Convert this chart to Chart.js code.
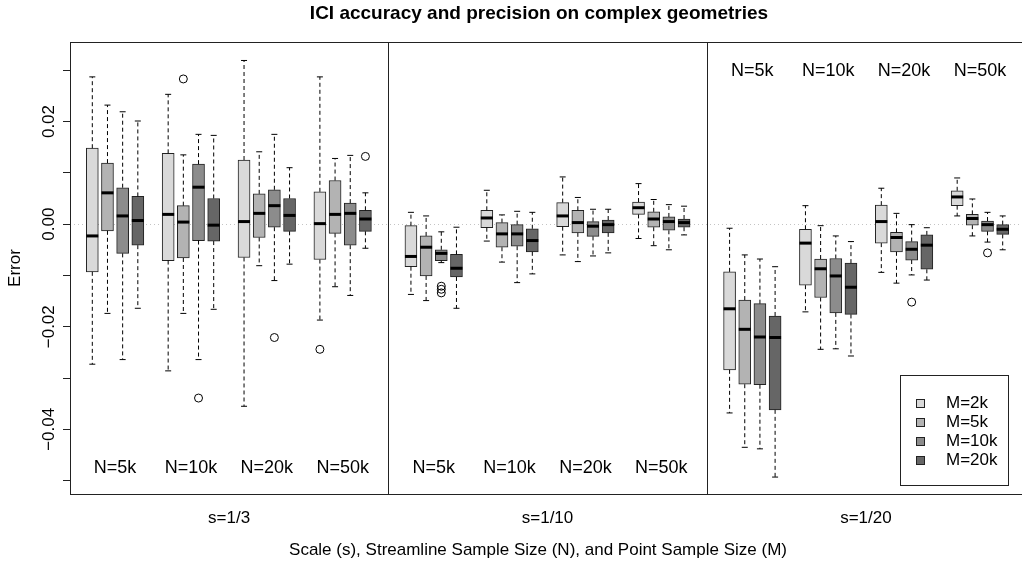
<!DOCTYPE html>
<html>
<head>
<meta charset="utf-8">
<title>ICI accuracy and precision on complex geometries</title>
<script src="https://cdn.jsdelivr.net/npm/chart.js@4.4.1/dist/chart.umd.min.js"></script>
<style>
  html, body { margin: 0; padding: 0; background: #fff; overflow: hidden; }
  canvas { display: block; }
</style>
</head>
<body>
<canvas id="boxChart" width="1030" height="568"></canvas>
<script>
// --- Data -------------------------------------------------------
const scaleLabels = ['s=1/3', 's=1/10', 's=1/20'];
const nLabels = ['N=5k', 'N=10k', 'N=20k', 'N=50k'];
const mLabels = ['M=2k', 'M=5k', 'M=10k', 'M=20k'];

// one row per M level; 12 groups = s=1/3 (N=5k..50k), s=1/10 (..), s=1/20 (..)
const whiskerLow = [
  [-0.0273, -0.0286, -0.0355, -0.0187,  -0.0137, -0.0033, -0.0060, -0.0028,  -0.0368, -0.0171, -0.0094,  0.0016],
  [-0.0174, -0.0174, -0.0081, -0.0122,  -0.0149, -0.0074, -0.0073, -0.0042,  -0.0435, -0.0244, -0.0115, -0.0023],
  [-0.0264, -0.0264, -0.0110, -0.0139,  -0.0075, -0.0114, -0.0062, -0.0050,  -0.0438, -0.0243, -0.0099, -0.0035],
  [-0.0164, -0.0166, -0.0078, -0.0047,  -0.0164, -0.0097, -0.0056, -0.0021,  -0.0493, -0.0257, -0.0109, -0.0050]
];
const lowerQuartile = [
  [-0.0093, -0.0071, -0.0065, -0.0069,  -0.0083, -0.0007, -0.0005,  0.0019,  -0.0284, -0.0119, -0.0037,  0.0036],
  [-0.0013, -0.0066, -0.0026, -0.0018,  -0.0101, -0.0045, -0.0017, -0.0006,  -0.0312, -0.0143, -0.0054, -0.0002],
  [-0.0057, -0.0032, -0.0006, -0.0041,  -0.0071, -0.0043, -0.0024, -0.0012,  -0.0313, -0.0173, -0.0070, -0.0014],
  [-0.0041, -0.0033, -0.0014, -0.0014,  -0.0103, -0.0054, -0.0017, -0.0006,  -0.0362, -0.0176, -0.0088, -0.0020]
];
const medians = [
  [-0.0023,  0.0019,  0.0005,  0.0001,  -0.0063,  0.0012,  0.0016,  0.0032,  -0.0165, -0.0037,  0.0005,  0.0053],
  [ 0.0061,  0.0004,  0.0021,  0.0019,  -0.0045, -0.0019,  0.0003,  0.0010,  -0.0205, -0.0087, -0.0026,  0.0011],
  [ 0.0016,  0.0072,  0.0036,  0.0021,  -0.0057, -0.0019, -0.0004,  0.0005,  -0.0220, -0.0101, -0.0049, -0.0001],
  [ 0.0007, -0.0002,  0.0017,  0.0010,  -0.0086, -0.0032, -0.0001,  0.0003,  -0.0221, -0.0123, -0.0041, -0.0010]
];
const upperQuartile = [
  [ 0.0148,  0.0138,  0.0125,  0.0063,  -0.0003,  0.0027,  0.0042,  0.0043,  -0.0093, -0.0010,  0.0037,  0.0065],
  [ 0.0119,  0.0036,  0.0059,  0.0085,  -0.0023,  0.0003,  0.0027,  0.0024,  -0.0148, -0.0068, -0.0016,  0.0019],
  [ 0.0071,  0.0117,  0.0067,  0.0041,  -0.0050, -0.0001,  0.0005,  0.0014,  -0.0155, -0.0067, -0.0034,  0.0006],
  [ 0.0054,  0.0050,  0.0050,  0.0027,  -0.0059, -0.0009,  0.0008,  0.0010,  -0.0179, -0.0076, -0.0021, -0.0001]
];
const whiskerHigh = [
  [ 0.0287,  0.0253,  0.0319,  0.0287,   0.0023,  0.0066,  0.0092,  0.0079,  -0.0008,  0.0036,  0.0070,  0.0090],
  [ 0.0232,  0.0135,  0.0141,  0.0128,   0.0016,  0.0018,  0.0052,  0.0048,  -0.0060, -0.0003,  0.0021,  0.0049],
  [ 0.0219,  0.0175,  0.0175,  0.0134,  -0.0015,  0.0025,  0.0029,  0.0038,  -0.0068, -0.0023, -0.0001,  0.0023],
  [ 0.0201,  0.0173,  0.0110,  0.0061,  -0.0006,  0.0023,  0.0029,  0.0035,  -0.0083, -0.0034, -0.0007,  0.0016]
];

// points beyond the whiskers: group, M level, value
const outlierGroup = [1, 1, 2, 3, 3, 4, 4, 4, 10, 11];
const outlierM     = [1, 2, 2, 0, 3, 2, 2, 2, 2, 2];
const outlierValue = [0.0283, -0.0339, -0.0221, -0.0244, 0.0132, -0.0121, -0.0127, -0.0134, -0.0152, -0.0056];

const yTicks = [-0.05, -0.04, -0.03, -0.02, -0.01, 0, 0.01, 0.02, 0.03];
const yLabelValues = [0.02, 0, -0.02, -0.04];
const yLabelText = ['0.02', '0.00', '\u22120.02', '\u22120.04'];

// --- Styling ----------------------------------------------------
const fills = ['#d9d9d9', '#b3b3b3', '#8c8c8c', '#666666'];
const FONT = '"Liberation Sans", Arial, Helvetica, sans-serif';
const INK = '#222';

// slot on the x axis: 21 slots per panel, 5 per N group (4 boxes + gap)
const slotOf = (g, m) => Math.floor(g / 4) * 21 + (g % 4) * 5 + m;
const groups = [...Array(12).keys()];

const datasets = mLabels.map((label, m) => ({
  type: 'bar',
  label,
  data: groups.map(g => ({ x: slotOf(g, m), y: [lowerQuartile[m][g], upperQuartile[m][g]] })),
  backgroundColor: fills[m],
  borderColor: INK,
  borderWidth: 1,
  borderSkipped: false,
  barThickness: 12,
  maxBarThickness: 12,
  grouped: false
}));

datasets.push({
  type: 'scatter',
  label: 'outliers',
  data: outlierValue.map((v, i) => ({ x: slotOf(outlierGroup[i], outlierM[i]), y: v })),
  pointStyle: 'circle',
  pointRadius: 4,
  pointBorderWidth: 1,
  borderColor: '#000',
  backgroundColor: 'rgba(0,0,0,0)'
});

// --- Whiskers, medians, frame and labels -------------------------
const boxParts = {
  id: 'boxParts',
  beforeDatasetsDraw(chart) {
    const { ctx, chartArea: a, scales: { y } } = chart;
    ctx.save();
    ctx.strokeStyle = '#c4c4c4';
    ctx.lineWidth = 1;
    ctx.setLineDash([1, 3]);
    const y0 = Math.round(y.getPixelForValue(0)) + 0.5;
    ctx.beginPath();
    ctx.moveTo(a.left, y0);
    ctx.lineTo(a.right, y0);
    ctx.stroke();
    ctx.restore();
  },
  afterDatasetsDraw(chart) {
    const { ctx, scales: { x, y } } = chart;
    ctx.save();
    ctx.strokeStyle = '#000';
    mLabels.forEach((_, m) => {
      groups.forEach(g => {
        const px = x.getPixelForValue(slotOf(g, m));
        const ends = [
          [upperQuartile[m][g], whiskerHigh[m][g]],
          [lowerQuartile[m][g], whiskerLow[m][g]]
        ];
        ends.forEach(([from, to]) => {
          const y1 = y.getPixelForValue(from);
          const y2 = y.getPixelForValue(to);
          ctx.lineWidth = 1;
          ctx.setLineDash([4, 3]);
          ctx.beginPath();
          ctx.moveTo(px, y1);
          ctx.lineTo(px, y2);
          ctx.stroke();
          ctx.setLineDash([]);
          ctx.beginPath();
          ctx.moveTo(px - 3, y2);
          ctx.lineTo(px + 3, y2);
          ctx.stroke();
        });
        const ym = y.getPixelForValue(medians[m][g]);
        ctx.lineWidth = 3;
        ctx.beginPath();
        ctx.moveTo(px - 6, ym);
        ctx.lineTo(px + 6, ym);
        ctx.stroke();
      });
    });
    ctx.restore();
  },
  afterDraw(chart) {
    const { ctx, chartArea: a, scales: { x, y } } = chart;
    ctx.save();

    // plot frame and panel dividers
    ctx.strokeStyle = INK;
    ctx.lineWidth = 1;
    ctx.strokeRect(a.left + 0.5, a.top + 0.5, a.right - a.left, a.bottom - a.top);
    const cuts = [x.getPixelForValue(19.5), x.getPixelForValue(40.5)];
    cuts.forEach(cx => {
      ctx.beginPath();
      ctx.moveTo(Math.round(cx) + 0.5, a.top);
      ctx.lineTo(Math.round(cx) + 0.5, a.bottom);
      ctx.stroke();
    });

    ctx.fillStyle = '#000';
    ctx.textAlign = 'center';
    ctx.textBaseline = 'middle';

    // N labels per group (bottom for the first two panels, top for the last)
    ctx.font = '18px ' + FONT;
    scaleLabels.forEach((_, p) => {
      nLabels.forEach((lab, n) => {
        const cx = x.getPixelForValue(p * 21 + n * 5 + 1.5);
        ctx.fillText(lab, cx, p < 2 ? 468 : 71);
      });
    });

    // panel labels under the frame
    ctx.font = '17px ' + FONT;
    const edges = [a.left, cuts[0], cuts[1], a.right];
    scaleLabels.forEach((lab, p) => {
      ctx.fillText(lab, (edges[p] + edges[p + 1]) / 2, 518);
    });

    ctx.fillText('Scale (s), Streamline Sample Size (N), and Point Sample Size (M)', 538, 550);

    ctx.font = 'bold 19px ' + FONT;
    ctx.fillText('ICI accuracy and precision on complex geometries', 539, 14);

    // y tick labels, rotated as in base graphics
    ctx.font = '17px ' + FONT;
    yLabelValues.forEach((v, i) => {
      ctx.save();
      ctx.translate(49, y.getPixelForValue(v));
      ctx.rotate(-Math.PI / 2);
      ctx.fillText(yLabelText[i], 0, 0);
      ctx.restore();
    });
    ctx.save();
    ctx.translate(15, (a.top + a.bottom) / 2);
    ctx.rotate(-Math.PI / 2);
    ctx.fillText('Error', 0, 0);
    ctx.restore();

    // legend box
    ctx.fillStyle = '#fff';
    ctx.fillRect(900, 375, 108, 110);
    ctx.strokeStyle = INK;
    ctx.strokeRect(900.5, 375.5, 108, 110);
    ctx.textAlign = 'left';
    mLabels.forEach((lab, m) => {
      const ry = 403 + m * 19;
      ctx.fillStyle = fills[m];
      ctx.fillRect(916, ry - 4, 9, 9);
      ctx.strokeRect(916.5, ry - 3.5, 8, 8);
      ctx.fillStyle = '#000';
      ctx.fillText(lab, 946, ry);
    });

    ctx.restore();
  }
};

new Chart(document.getElementById('boxChart'), {
  type: 'bar',
  data: { datasets },
  options: {
    responsive: false,
    animation: false,
    events: [],
    layout: { padding: { left: 63, top: 42, right: 5, bottom: 74 } },
    plugins: {
      legend: { display: false },
      tooltip: { enabled: false }
    },
    scales: {
      x: { type: 'linear', display: false, offset: false, min: -1.47, max: 61.47 },
      y: {
        min: -0.0526,
        max: 0.0355,
        afterBuildTicks: s => { s.ticks = yTicks.map(v => ({ value: v })); },
        grid: { drawOnChartArea: false, tickLength: 7, color: INK },
        border: { display: false },
        ticks: { display: false }
      }
    }
  },
  plugins: [boxParts]
});
</script>
</body>
</html>
